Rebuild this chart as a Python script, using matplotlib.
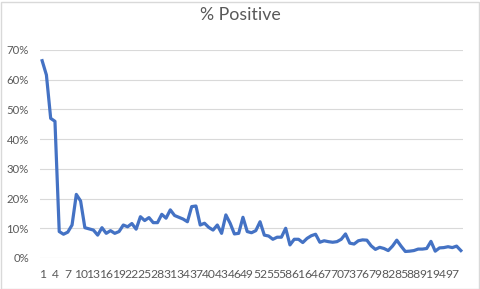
import numpy as np
import matplotlib
matplotlib.use("Agg")
import matplotlib.pyplot as plt
from matplotlib.patches import Rectangle
from matplotlib.ticker import FuncFormatter

# values, in percent (categories 1..99)
pct_positive = [
    66.4, 61.6, 47.0, 46.0, 8.9, 8.0, 8.7, 11.1, 21.4, 19.2,
    10.2, 9.8, 9.4, 7.7, 10.2, 8.3, 9.2, 8.3, 8.9, 11.1,
    10.5, 11.6, 9.7, 13.9, 12.6, 13.6, 11.9, 11.9, 14.7, 13.4,
    16.2, 14.3, 13.7, 13.1, 12.2, 17.3, 17.5, 11.1, 11.7, 10.3,
    9.4, 11.1, 8.3, 14.5, 11.7, 8.1, 8.3, 13.7, 8.9, 8.5,
    9.2, 12.2, 7.7, 7.4, 6.3, 7.0, 7.0, 10.0, 4.4, 6.3,
    6.3, 5.2, 6.6, 7.5, 8.0, 5.3, 5.8, 5.5, 5.3, 5.5,
    6.3, 8.1, 5.0, 4.7, 5.8, 6.1, 6.0, 4.1, 2.9, 3.6,
    3.2, 2.5, 4.0, 6.0, 4.0, 2.2, 2.3, 2.5, 3.0, 3.0,
    3.2, 5.6, 2.3, 3.4, 3.5, 3.8, 3.5, 4.0, 2.5,
]
categories = list(range(1, len(pct_positive) + 1))
x_labels = categories[::3]
y_ticks = [0, 10, 20, 30, 40, 50, 60, 70]

text_color = "#595959"
plt.rcParams["font.family"] = ["Lato", "DejaVu Sans"]

fig = plt.figure(figsize=(4.81, 2.89), dpi=100)
ax = fig.add_axes([40 / 481, 1 - 258 / 289, 423 / 481, 208 / 289])

ax.plot(categories, np.array(pct_positive) / 100, color="#4472C4", lw=2.3,
        solid_joinstyle="round", zorder=3)

ax.set_xlim(0.5, len(categories) + 0.5)
ax.set_ylim(0, 0.7)
ax.set_yticks([v / 100 for v in y_ticks])
ax.yaxis.set_major_formatter(FuncFormatter(lambda v, p: f"{round(v * 100)}%"))
ax.set_xticks(x_labels)
ax.set_xticklabels([str(c) for c in x_labels])
ax.grid(axis="y", color="#d9d9d9", lw=0.8)
ax.set_axisbelow(True)
for s in ax.spines.values():
    s.set_visible(False)
ax.tick_params(length=0, colors=text_color, labelsize=8.2)
ax.tick_params(axis="x", labelsize=8.7, pad=8)
ax.tick_params(axis="y", pad=8)

fig.text(0.5, 1 - 15 / 289, "% Positive", ha="center", va="center",
         fontsize=12.8, color=text_color)

# chart border
fig.patches.append(Rectangle((0.5 / 481, 0.5 / 289), 479 / 481, 287 / 289,
                             transform=fig.transFigure, fill=False,
                             edgecolor="#d9d9d9", lw=1))

fig.savefig("out.png", dpi=100)
